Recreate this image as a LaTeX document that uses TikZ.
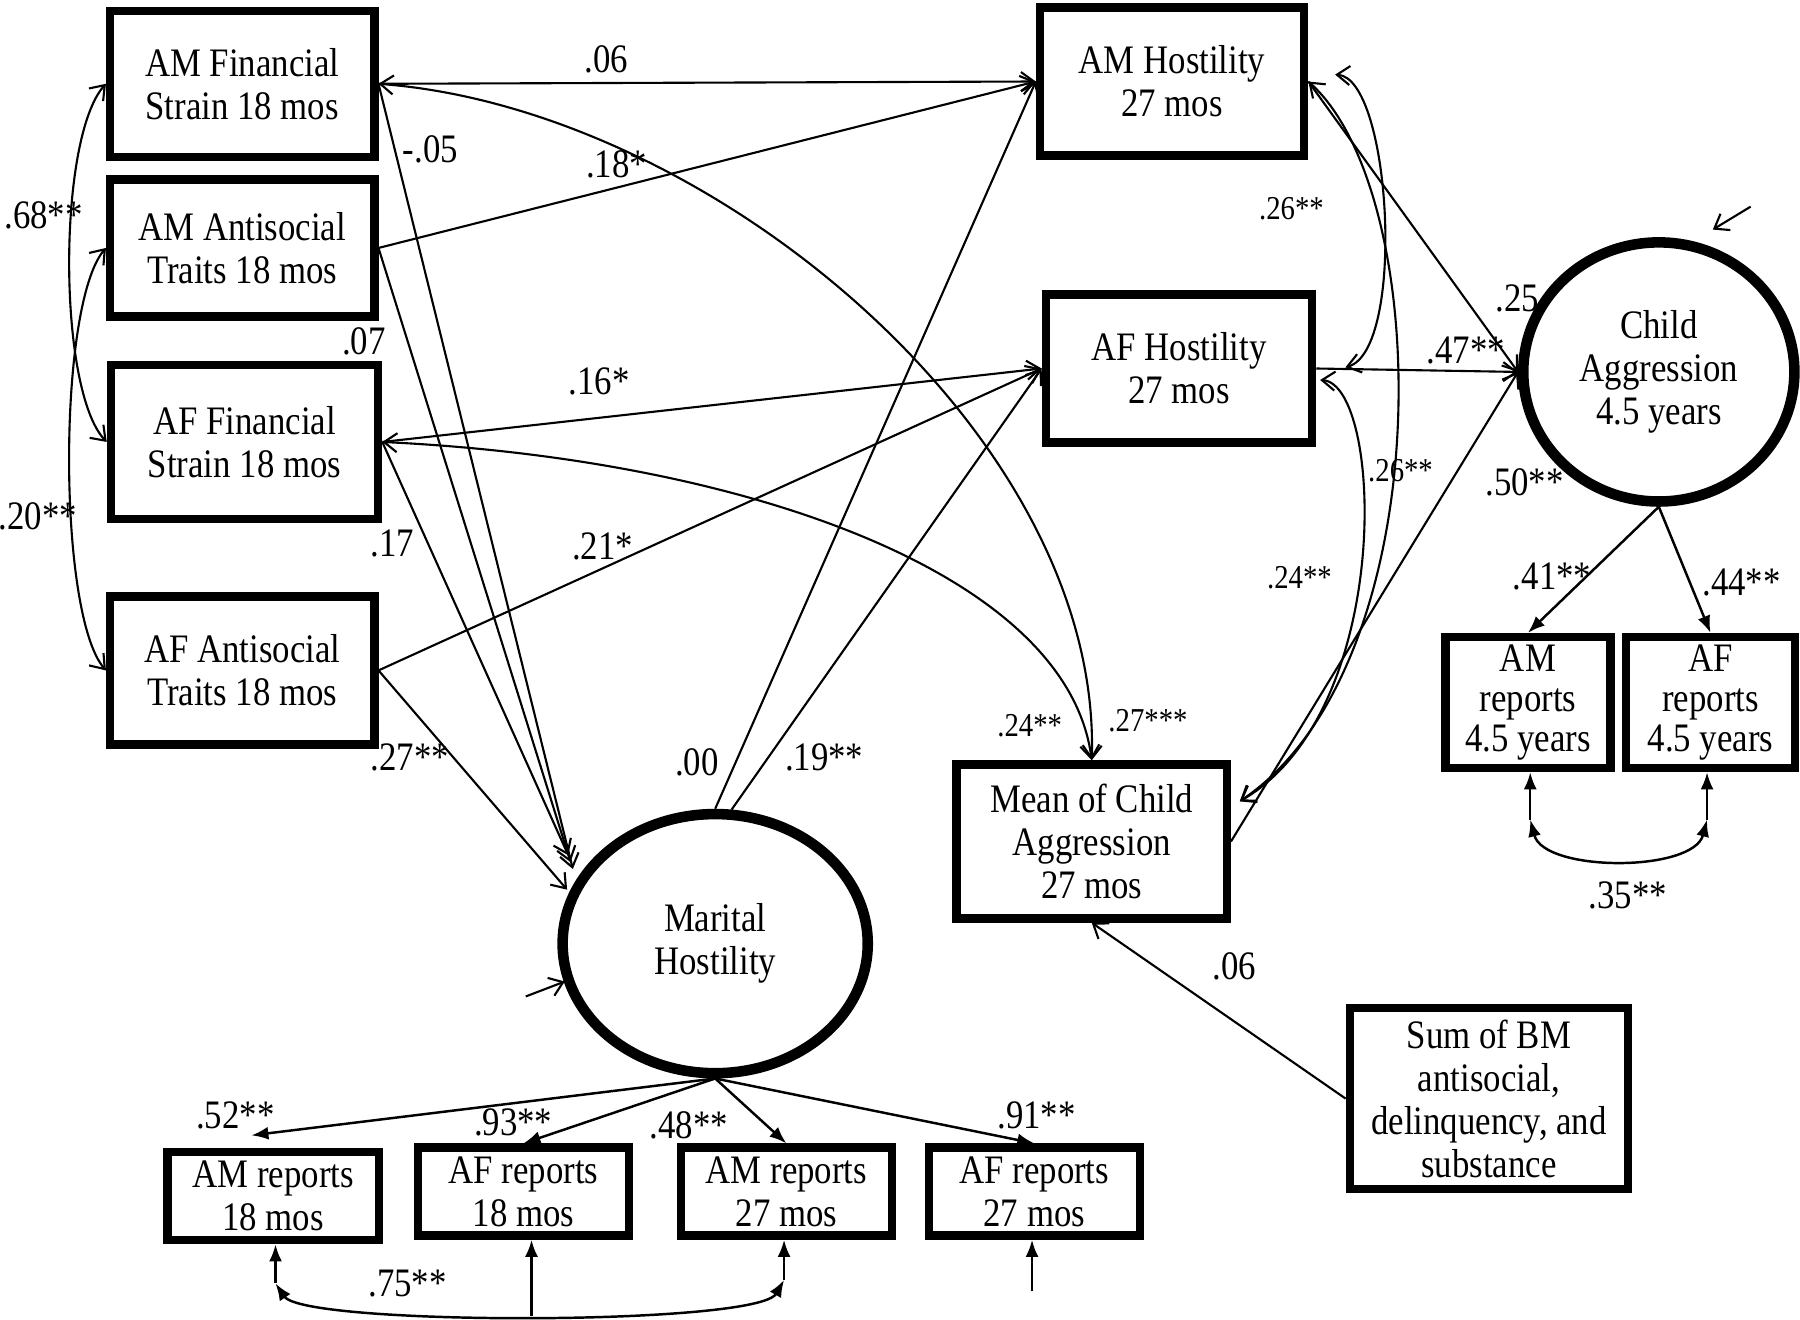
\documentclass[tikz,border=0pt]{standalone}
\usepackage{fontspec}
\setmainfont{Liberation Serif}[FakeStretch=0.86]
\usepackage{tikz}
\usetikzlibrary{arrows.meta,shapes.geometric}

\begin{document}
\begin{tikzpicture}[x=0.01148cm,y=-0.01148cm,
	box/.style={draw,line width=2.4pt,rectangle,align=center,inner sep=0pt,font=\fontsize{11.5}{12.2}\selectfont},
	latent/.style={draw,line width=3pt,ellipse,align=center,inner sep=0pt,font=\fontsize{11.5}{12.2}\selectfont},
	coef/.style={inner sep=0pt,font=\fontsize{11.5}{12.2}\selectfont},
	scoef/.style={inner sep=0pt,font=\fontsize{9.5}{10}\selectfont},
	reg/.style={line width=0.6pt,-{Straight Barb[length=1.3mm,width=1.9mm]}},
	cov/.style={line width=0.6pt,{Straight Barb[length=1.3mm,width=1.9mm]}-{Straight Barb[length=1.3mm,width=1.9mm]}},
	load/.style={line width=0.7pt,-{Latex[length=1.7mm,width=1.3mm]}},
	lcov/.style={line width=0.7pt,{Latex[length=1.7mm,width=1.3mm]}-{Latex[length=1.7mm,width=1.3mm]}}]
\useasboundingbox (0,0) rectangle (1568,1149);

\node [box,minimum width=2.64cm,minimum height=1.46cm] (AMFS) at (211,73) {AM Financial\\Strain 18 mos};
\node [box,minimum width=2.64cm,minimum height=1.37cm] (AMAT) at (211,216) {AM Antisocial\\Traits 18 mos};
\node [box,minimum width=2.67cm,minimum height=1.54cm] (AFFS) at (213,385) {AF Financial\\Strain 18 mos};
\node [box,minimum width=2.64cm,minimum height=1.48cm] (AFAT) at (211,584) {AF Antisocial\\Traits 18 mos};
\node [box,minimum width=2.64cm,minimum height=1.48cm] (AMH) at (1021,71) {AM Hostility\\27 mos};
\node [box,minimum width=2.66cm,minimum height=1.48cm] (AFH) at (1027,321) {AF Hostility\\27 mos};
\node [box,minimum width=2.70cm,minimum height=1.54cm] (MCA) at (951,733) {Mean of Child\\Aggression\\27 mos};
\node [latent,minimum width=2.71cm,minimum height=2.59cm] (CA) at (1445,324) {Child\\Aggression\\4.5 years};
\node [latent,minimum width=3.05cm,minimum height=2.59cm] (MH) at (623,822) {Marital\\Hostility};
\node [box,minimum width=1.65cm,minimum height=1.31cm,font=\fontsize{11.5}{11.4}\selectfont] (AMR45) at (1331,612) {AM\\reports\\4.5 years};
\node [box,minimum width=1.69cm,minimum height=1.31cm,font=\fontsize{11.5}{11.4}\selectfont] (AFR45) at (1490,612) {AF\\reports\\4.5 years};
\node [box,minimum width=2.78cm,minimum height=1.81cm] (SUM) at (1297,957) {Sum of BM\\antisocial,\\delinquency, and\\substance};
\foreach \nm/\x/\y/\txt in {AMR18/238/1042/AM reports\\18 mos, AFR18/456/1038/AF reports\\18 mos,
	AMR27/685/1038/AM reports\\27 mos, AFR27/901/1038/AF reports\\27 mos}
	{
	\node [box,minimum width=2.11cm,minimum height=0.88cm] (\nm) at (\x,\y) {\txt};
	}

\coordinate (mhA) at (499,757);
\coordinate (mhB) at (497,751);
\coordinate (mhC) at (495,745);
\coordinate (mhD) at (494,775);
\coordinate (amhR) at (1163,65);
\coordinate (afhR) at (1172,320);
\coordinate (afhL) at (1150,331);
\coordinate (mcaR) at (1080,698);
\coordinate (eCA) at (1525,180);
\coordinate (eCAtip) at (1492,200);
\coordinate (eMH) at (458,868);
\coordinate (eMHtip) at (492,855);
\coordinate (l52) at (219,989);
\coordinate (e18) at (240,1118);
\coordinate (e27) at (683,1115);
\coordinate (eAF18) at (463,1146);
\coordinate (eAF27) at (899,1125);
\coordinate (e45a) at (1333,714);
\coordinate (e45b) at (1487,714);

% 18 mos predictors
\draw [reg] (AMFS.east) -- (AMH.west);
\draw [reg] (AMAT.east) -- (AMH.west);
\draw [reg] (AFFS.east) -- (AFH.west);
\draw [reg] (AFAT.east) -- (AFH.west);
\draw [reg] (AMFS.east) -- (mhA);
\draw [reg] (AMAT.east) -- (mhB);
\draw [reg] (AFFS.east) -- (mhC);
\draw [reg] (AFAT.east) -- (mhD);
\draw [cov] (AMFS.east) .. controls (620,95) and (960,380) .. (MCA.north);
\draw [cov] (AFFS.east) .. controls (650,400) and (930,500) .. (MCA.north);
\draw [cov] (AMFS.west) .. controls (50,120) and (50,340) .. (AFFS.west);
\draw [cov] (AMAT.west) .. controls (50,265) and (50,535) .. (AFAT.west);

% 27 mos
\draw [reg] (MH.north) -- (AMH.west);
\draw [reg] (MH.83) -- (AFH.west);
\draw [reg] (AMH.east) -- (CA.west);
\draw [reg] (AFH.east) -- (CA.west);
\draw [reg] (MCA.east) -- (CA.west);
\draw [cov] (amhR) .. controls (1212,68) and (1225,305) .. (afhR);
\draw [cov] (AMH.east) .. controls (1250,170) and (1255,580) .. (mcaR);
\draw [cov] (afhL) .. controls (1205,335) and (1215,620) .. (mcaR);
\draw [reg] (SUM.west) -- (MCA.south);
\draw [reg] (eCA) -- (eCAtip);
\draw [reg] (eMH) -- (eMHtip);

% indicators
\draw [load] (CA.south) -- (AMR45.north);
\draw [load] (CA.south) -- (AFR45.north);
\draw [load] (e45a) -- (e45a |- AMR45.south);
\draw [load] (e45b) -- (e45b |- AFR45.south);
\draw [lcov] (e45a) .. controls (1345,760) and (1475,760) .. (e45b);
\draw [load] (MH.south) -- (l52);
\draw [load] (MH.south) -- (AFR18.north);
\draw [load] (MH.south) -- (AMR27.north);
\draw [load] (MH.south) -- (AFR27.north);
\draw [load] (e18) -- (e18 |- AMR18.south);
\draw [load] (e27) -- (e27 |- AMR27.south);
\draw [load] (eAF18) -- (eAF18 |- AFR18.south);
\draw [load] (eAF27) -- (eAF27 |- AFR27.south);
\draw [lcov] (e18) .. controls (265,1155) and (660,1155) .. (e27);

\node [coef] (c06a) at (528,52) {.06};
\node [coef] (c05) at (375,130) {-.05};
\node [coef] (c18) at (537,143) {.18*};
\node [coef] (c07) at (317,297) {.07};
\node [coef] (c16) at (522,332) {.16*};
\node [coef] (c17) at (342,473) {.17};
\node [coef] (c21) at (525,476) {.21*};
\node [coef] (c27a) at (357,660) {.27**};
\node [coef] (c00) at (607,664) {.00};
\node [coef] (c19) at (718,660) {.19**};
\node [scoef] (c24a) at (897,632) {.24**};
\node [scoef] (c27b) at (1000,628) {.27***};
\node [scoef] (c26a) at (1125,182) {.26**};
\node [coef] (c25) at (1322,260) {.25};
\node [coef] (c47) at (1277,305) {.47**};
\node [scoef] (c26b) at (1220,410) {.26**};
\node [coef] (c50) at (1328,420) {.50**};
\node [scoef] (c24b) at (1132,503) {.24**};
\node [coef] (c41) at (1352,502) {.41**};
\node [coef] (c44) at (1517,507) {.44**};
\node [coef] (c35) at (1418,780) {.35**};
\node [coef] (c06b) at (1075,842) {.06};
\node [coef] (c68) at (38,188) {.68**};
\node [coef] (c20) at (33,450) {.20**};
\node [coef] (c52) at (205,972) {.52**};
\node [coef] (c93) at (447,978) {.93**};
\node [coef] (c48) at (600,980) {.48**};
\node [coef] (c91) at (903,972) {.91**};
\node [coef] (c75) at (355,1118) {.75**};
\end{tikzpicture}
\end{document}
